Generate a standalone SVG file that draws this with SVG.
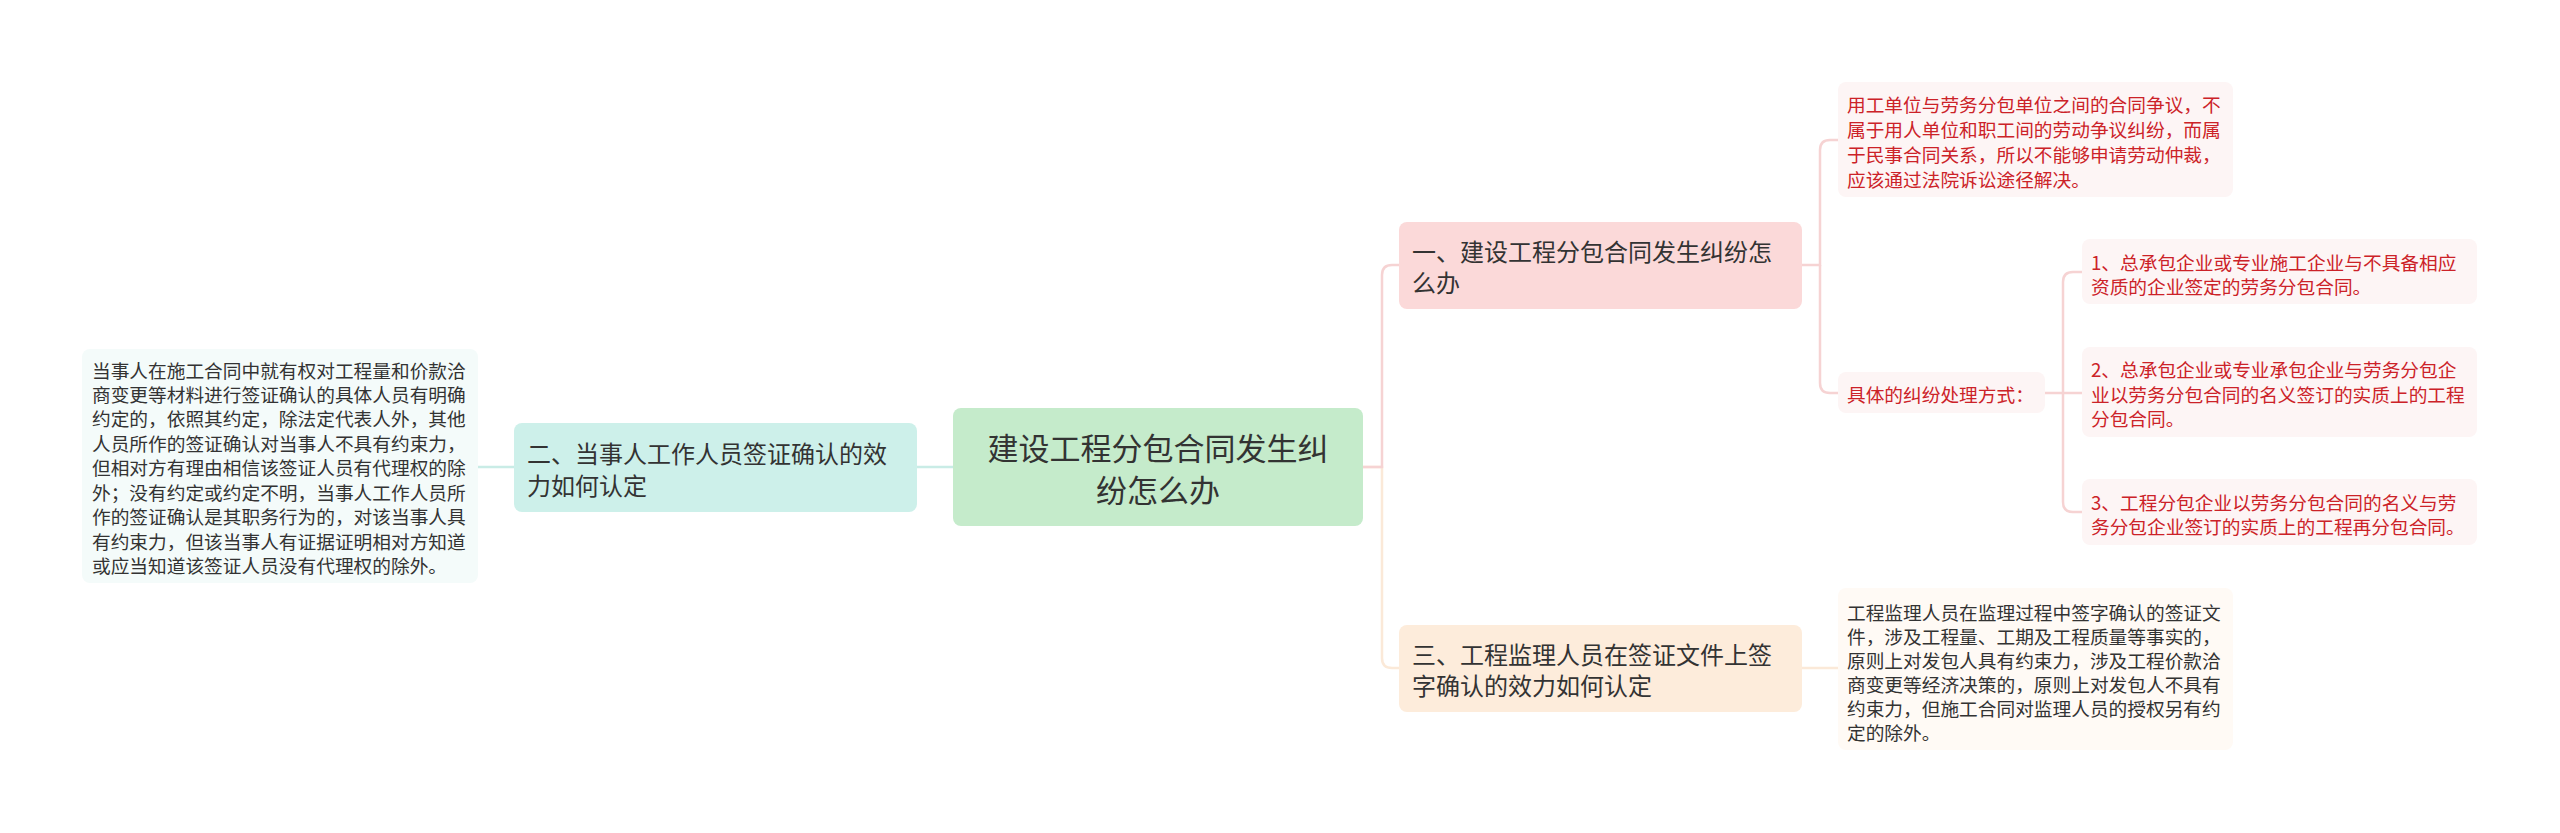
<svg xmlns="http://www.w3.org/2000/svg" width="2560" height="833" viewBox="0 0 2560 833">
<style>
text{font-family:"Noto Sans CJK SC","Noto Sans",sans-serif;dominant-baseline:central}
.root{font-size:31px;fill:#333;text-anchor:middle}
.main{font-size:24px;fill:#333}
.small{font-size:18.7px;fill:#333}
.red{font-size:18.7px;fill:#cc2228}
.conn{fill:none;stroke-width:2.5}
.pink{stroke:#f6d3d3}
.peach{stroke:#fbe9d8}
.teal{stroke:#c9ece6}
</style>
<rect width="2560" height="833" fill="#ffffff"/>
<g id="connectors">
<path class="conn teal" d="M953,467 L917,467"/>
<path class="conn teal" d="M514,467 L478,467"/>
<path class="conn peach" d="M1363,467 L1382,467 L1382,658 Q1382,668 1392,668 L1399,668"/>
<path class="conn pink" d="M1363,467 L1382,467 L1382,275 Q1382,265 1392,265 L1399,265"/>
<path class="conn pink" d="M1802,265 L1820,265 L1820,150 Q1820,140 1830,140 L1838,140"/>
<path class="conn pink" d="M1820,265 L1820,383 Q1820,393 1830,393 L1838,393"/>
<path class="conn pink" d="M2045,393 L2082,393"/>
<path class="conn pink" d="M2063,393 L2063,282 Q2063,272 2073,272 L2082,272"/>
<path class="conn pink" d="M2063,393 L2063,502 Q2063,512 2073,512 L2082,512"/>
<path class="conn peach" d="M1802,668 L1838,668"/>
</g>
<g id="root">
<rect x="953" y="408" width="410" height="118" rx="8" fill="#c5ebcb"/>
<text class="root" x="1158" y="446">建设工程分包合同发生纠</text>
<text class="root" x="1158" y="488">纷怎么办</text>
</g>
<g id="node1">
<rect x="1399" y="222" width="403" height="87" rx="8" fill="#fbd9d9"/>
<text class="main" x="1412" y="250">一、建设工程分包合同发生纠纷怎</text>
<text class="main" x="1412" y="281">么办</text>
</g>
<g id="node2">
<rect x="514" y="423" width="403" height="89" rx="8" fill="#cdf0ea"/>
<text class="main" x="527" y="452">二、当事人工作人员签证确认的效</text>
<text class="main" x="527" y="484">力如何认定</text>
</g>
<g id="node3">
<rect x="1399" y="625" width="403" height="87" rx="8" fill="#fdecdb"/>
<text class="main" x="1412" y="653">三、工程监理人员在签证文件上签</text>
<text class="main" x="1412" y="684">字确认的效力如何认定</text>
</g>
<g id="leaf2">
<rect x="82" y="349" width="396" height="234" rx="8" fill="#f4fbfa"/>
<text class="small" x="92" y="369">当事人在施工合同中就有权对工程量和价款洽</text>
<text class="small" x="92" y="393">商变更等材料进行签证确认的具体人员有明确</text>
<text class="small" x="92" y="417">约定的，依照其约定，除法定代表人外，其他</text>
<text class="small" x="92" y="442">人员所作的签证确认对当事人不具有约束力，</text>
<text class="small" x="92" y="466">但相对方有理由相信该签证人员有代理权的除</text>
<text class="small" x="92" y="491">外；没有约定或约定不明，当事人工作人员所</text>
<text class="small" x="92" y="515">作的签证确认是其职务行为的，对该当事人具</text>
<text class="small" x="92" y="540">有约束力，但该当事人有证据证明相对方知道</text>
<text class="small" x="92" y="564">或应当知道该签证人员没有代理权的除外。</text>
</g>
<g id="leaf1a">
<rect x="1838" y="82" width="395" height="115" rx="8" fill="#fdf5f5"/>
<text class="red" x="1847" y="103">用工单位与劳务分包单位之间的合同争议，不</text>
<text class="red" x="1847" y="128">属于用人单位和职工间的劳动争议纠纷，而属</text>
<text class="red" x="1847" y="153">于民事合同关系，所以不能够申请劳动仲裁，</text>
<text class="red" x="1847" y="178">应该通过法院诉讼途径解决。</text>
</g>
<g id="leaf1b">
<rect x="1838" y="372" width="207" height="41" rx="8" fill="#fdf5f5"/>
<text class="red" x="1847" y="393">具体的纠纷处理方式：</text>
</g>
<g id="item1">
<rect x="2082" y="239" width="395" height="65" rx="8" fill="#fdf5f5"/>
<text class="red" x="2091" y="261">1、总承包企业或专业施工企业与不具备相应</text>
<text class="red" x="2091" y="285">资质的企业签定的劳务分包合同。</text>
</g>
<g id="item2">
<rect x="2082" y="347" width="395" height="90" rx="8" fill="#fdf5f5"/>
<text class="red" x="2091" y="368">2、总承包企业或专业承包企业与劳务分包企</text>
<text class="red" x="2091" y="393">业以劳务分包合同的名义签订的实质上的工程</text>
<text class="red" x="2091" y="417">分包合同。</text>
</g>
<g id="item3">
<rect x="2082" y="479" width="395" height="66" rx="8" fill="#fdf5f5"/>
<text class="red" x="2091" y="501">3、工程分包企业以劳务分包合同的名义与劳</text>
<text class="red" x="2091" y="525">务分包企业签订的实质上的工程再分包合同。</text>
</g>
<g id="leaf3">
<rect x="1838" y="588" width="395" height="162" rx="8" fill="#fffaf5"/>
<text class="small" x="1847" y="611">工程监理人员在监理过程中签字确认的签证文</text>
<text class="small" x="1847" y="635">件，涉及工程量、工期及工程质量等事实的，</text>
<text class="small" x="1847" y="659">原则上对发包人具有约束力，涉及工程价款洽</text>
<text class="small" x="1847" y="683">商变更等经济决策的，原则上对发包人不具有</text>
<text class="small" x="1847" y="707">约束力，但施工合同对监理人员的授权另有约</text>
<text class="small" x="1847" y="731">定的除外。</text>
</g>
</svg>
